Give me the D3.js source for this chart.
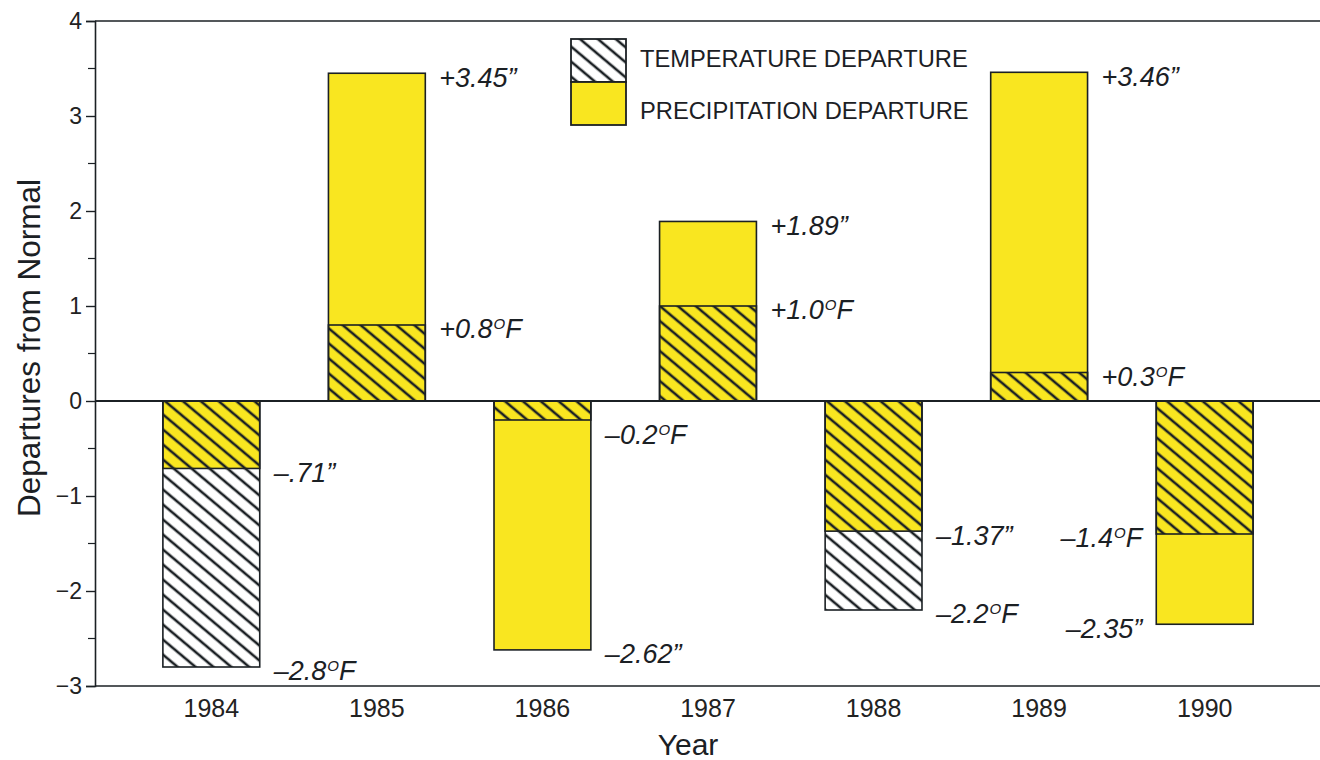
<!DOCTYPE html>
<html lang="en">
<head>
<meta charset="utf-8">
<title>Departures from Normal, 1984-1990</title>
<script src="https://d3js.org/d3.v7.min.js"></script>
<style>
  body { margin: 0; background: #fff; }
  svg { font-family: "Liberation Sans", Arial, Helvetica, sans-serif; }
  .tick text { fill: #222; }
</style>
</head>
<body>
<script>
// data
var years = ["1984", "1985", "1986", "1987", "1988", "1989", "1990"];
var tempDep = [-2.8, 0.8, -0.2, 1.0, -2.2, 0.3, -1.4];
var precipDep = [-0.71, 3.45, -2.62, 1.89, -1.37, 3.46, -2.35];
var tempLabels = ["–2.8", "+0.8", "–0.2", "+1.0", "–2.2", "+0.3", "–1.4"];
var precipLabels = ["–.71\u201D", "+3.45\u201D", "–2.62\u201D", "+1.89\u201D", "–1.37\u201D", "+3.46\u201D", "–2.35\u201D"];
var yTicks = [-3, -2, -1, 0, 1, 2, 3, 4];
var legendItems = ["TEMPERATURE DEPARTURE", "PRECIPITATION DEPARTURE"];

var w = 1320, h = 760;
var mLeft = 95, mRight = 1321, mTop = 21, mBottom = 686;
var yellow = "#f9e620", ink = "#1b2024";

var svg = d3.select("body").append("svg")
    .attr("width", w)
    .attr("height", h);

// hatch pattern, lines running top-left to bottom-right
var defs = svg.append("defs");
defs.append("pattern")
    .attr("id", "hatch")
    .attr("patternUnits", "userSpaceOnUse")
    .attr("width", 11.5)
    .attr("height", 11.5)
    .attr("patternTransform", "rotate(-50)")
  .append("line")
    .attr("x1", 5.75).attr("y1", -1)
    .attr("x2", 5.75).attr("y2", 12.5)
    .attr("stroke", ink)
    .attr("stroke-width", 2.6);

var x = d3.scaleBand()
    .domain(years)
    .range([mLeft, mRight])
    .paddingInner(0.415)
    .paddingOuter(0.41);

var y = d3.scaleLinear()
    .domain([-3, 4])
    .range([mBottom, mTop]);

var y0 = y(0);

// frame lines
svg.append("line")
    .attr("x1", mLeft).attr("x2", w).attr("y1", mTop).attr("y2", mTop)
    .attr("stroke", ink).attr("stroke-width", 1.6);
svg.append("line")
    .attr("x1", mLeft).attr("x2", w).attr("y1", mBottom).attr("y2", mBottom)
    .attr("stroke", ink).attr("stroke-width", 1.6);

// y axis, major and minor ticks
var yAxis = svg.append("g")
    .attr("transform", "translate(" + mLeft + ",0)")
    .call(d3.axisLeft(y).tickValues(yTicks).tickSize(9).tickPadding(4).tickFormat(d3.format("d")));
yAxis.select(".domain").attr("stroke", ink).attr("stroke-width", 1.6);
yAxis.selectAll(".tick line").attr("stroke", ink).attr("stroke-width", 1.4);
yAxis.selectAll(".tick text").style("font-size", "23px");

svg.append("g")
    .attr("transform", "translate(" + mLeft + ",0)")
    .selectAll("line")
    .data(d3.range(-2.5, 4, 1))
    .enter().append("line")
    .attr("x1", -7).attr("x2", 0)
    .attr("y1", function(d) { return y(d); })
    .attr("y2", function(d) { return y(d); })
    .attr("stroke", ink).attr("stroke-width", 1.2);

// x axis labels
var xAxis = svg.append("g")
    .attr("transform", "translate(0," + mBottom + ")")
    .call(d3.axisBottom(x).tickSize(0).tickPadding(13));
xAxis.select(".domain").remove();
xAxis.selectAll(".tick text").style("font-size", "25px");

// bars
var rows = years.map(function(yr, i) {
  return { year: yr, t: tempDep[i], p: precipDep[i], tl: tempLabels[i], pl: precipLabels[i], i: i };
});

function barY(v) { return Math.min(y(v), y0); }
function barH(v) { return Math.abs(y(v) - y0); }

var bars = svg.append("g").selectAll("g")
    .data(rows)
    .enter().append("g");

// temperature bar white background
bars.append("rect")
    .attr("x", function(d) { return x(d.year); })
    .attr("width", x.bandwidth())
    .attr("y", function(d) { return barY(d.t); })
    .attr("height", function(d) { return barH(d.t); })
    .attr("fill", "#fff");

// precipitation bar
bars.append("rect")
    .attr("x", function(d) { return x(d.year); })
    .attr("width", x.bandwidth())
    .attr("y", function(d) { return barY(d.p); })
    .attr("height", function(d) { return barH(d.p); })
    .attr("fill", yellow)
    .attr("stroke", ink)
    .attr("stroke-width", 1.6);

// temperature hatch on top
bars.append("rect")
    .attr("x", function(d) { return x(d.year); })
    .attr("width", x.bandwidth())
    .attr("y", function(d) { return barY(d.t); })
    .attr("height", function(d) { return barH(d.t); })
    .attr("fill", "url(#hatch)")
    .attr("stroke", ink)
    .attr("stroke-width", 1.6);

// zero line
svg.append("line")
    .attr("x1", mLeft).attr("x2", w).attr("y1", y0).attr("y2", y0)
    .attr("stroke", ink).attr("stroke-width", 1.8);

// value labels
function labelY(v) {
  var ly = y(v) + 4;
  if (Math.abs(ly - y0) < 25) ly = y0 + (v < 0 ? 34 : -24);
  return ly;
}
function labelX(d) {
  // last bar has its labels on the left
  return d.i === years.length - 1 ? x(d.year) - 14 : x(d.year) + x.bandwidth() + 14;
}
function anchor(d) { return d.i === years.length - 1 ? "end" : "start"; }

var lab = svg.append("g")
    .style("font-size", "27px")
    .style("font-style", "italic")
    .attr("fill", ink);

lab.selectAll("text.p")
    .data(rows)
    .enter().append("text")
    .attr("class", "p")
    .attr("x", labelX)
    .attr("y", function(d) { return labelY(d.p); })
    .attr("dy", "0.35em")
    .attr("text-anchor", anchor)
    .text(function(d) { return d.pl; });

var tt = lab.selectAll("text.t")
    .data(rows)
    .enter().append("text")
    .attr("class", "t")
    .attr("x", labelX)
    .attr("y", function(d) { return labelY(d.t); })
    .attr("dy", "0.35em")
    .attr("text-anchor", anchor);
tt.append("tspan").text(function(d) { return d.tl; });
tt.append("tspan").attr("dy", -9).attr("dx", 1).style("font-size", "15px").text("O");
tt.append("tspan").attr("dy", 9).text("F");

// legend
var lg = svg.append("g").attr("transform", "translate(571,39)");
lg.append("rect").attr("width", 55).attr("height", 43).attr("fill", "#fff");
lg.append("rect").attr("width", 55).attr("height", 43).attr("fill", "url(#hatch)")
    .attr("stroke", ink).attr("stroke-width", 1.8);
lg.append("rect").attr("y", 43).attr("width", 55).attr("height", 43).attr("fill", yellow)
    .attr("stroke", ink).attr("stroke-width", 1.8);
lg.selectAll("text")
    .data(legendItems)
    .enter().append("text")
    .attr("x", 69)
    .attr("y", function(d, i) { return 20 + i * 52; })
    .attr("dy", "0.35em")
    .style("font-size", "23.7px")
    .attr("fill", ink)
    .text(function(d) { return d; });

// axis titles
svg.append("text")
    .attr("x", 688).attr("y", 755)
    .attr("text-anchor", "middle")
    .style("font-size", "30px")
    .attr("fill", ink)
    .text("Year");

svg.append("text")
    .attr("transform", "translate(40,348) rotate(-90)")
    .attr("text-anchor", "middle")
    .style("font-size", "31.5px")
    .attr("fill", ink)
    .text("Departures from Normal");
</script>
</body>
</html>
